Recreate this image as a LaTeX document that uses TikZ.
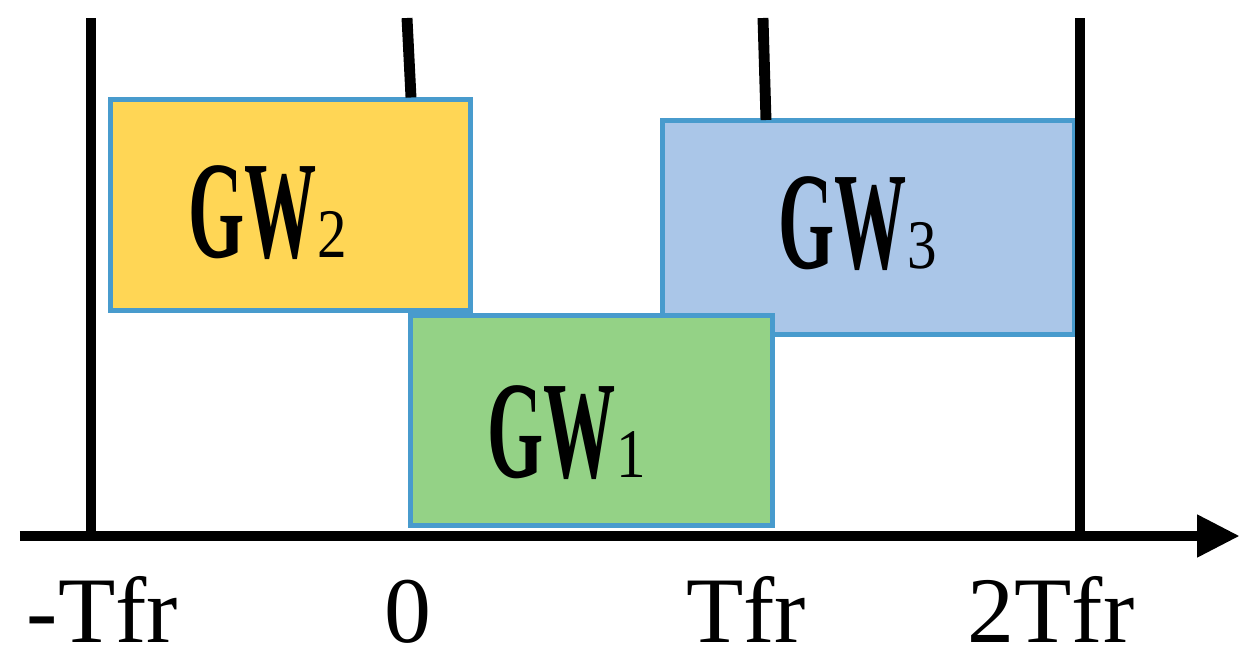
\documentclass[tikz,border=0pt]{standalone}
\usepackage{fontspec}
\usepackage{tikz}
\usetikzlibrary{arrows.meta}
\setmainfont{Liberation Serif}
\newfontfamily\gwfont[FakeStretch=0.52]{Liberation Serif}
\newfontfamily\gwsub[FakeStretch=0.85]{Liberation Serif}
\definecolor{gwyellow}{RGB}{255,214,85}
\definecolor{gwgreen}{RGB}{148,210,134}
\definecolor{gwblue}{RGB}{170,198,232}
\definecolor{gwedge}{RGB}{72,155,205}

\begin{document}
\begin{tikzpicture}[
    gwbox/.style={draw=gwedge, line width=1.4pt, inner sep=0pt, outer sep=0pt},
    gwtext/.style={anchor=base west, inner sep=0pt, font=\gwfont\bfseries\fontsize{39.5}{40}\selectfont},
    ticklabel/.style={anchor=base, inner sep=0pt, font=\fontsize{26.7}{30}\selectfont},
    timeline/.style={line width=3.1pt}
  ]
    \useasboundingbox (0,0) rectangle (12.49,6.57);
    % gate windows
    \node[gwbox, fill=gwyellow, minimum width=3.60cm, minimum height=2.11cm] (gw2) at (2.905,4.52) {};
    \node[gwbox, fill=gwblue, minimum width=4.12cm, minimum height=2.14cm] (gw3) at (8.685,4.295) {};
    \node[gwbox, fill=gwgreen, minimum width=3.62cm, minimum height=2.10cm] (gw1) at (5.915,2.365) {};
    \node[gwtext] (gw2 text) at (1.88,4.00) {GW{\gwsub\mdseries\fontsize{19.8}{20}\selectfont 2}};
    \node[gwtext] (gw3 text) at (7.78,3.89) {GW{\gwsub\mdseries\fontsize{19.8}{20}\selectfont 3}};
    \node[gwtext] (gw1 text) at (4.87,1.80) {GW{\gwsub\mdseries\fontsize{19.8}{20}\selectfont 1}};
    % frame boundaries
    \draw[timeline] (0.91,6.39) -- (0.91,1.21);
    \draw[timeline] (4.07,6.39) -- (4.11,5.595);
    \draw[timeline] (7.63,6.39) -- (7.66,5.37);
    \draw[timeline] (10.80,6.39) -- (10.80,1.21);
    % time axis
    \draw[timeline, -{Triangle[length=4.3mm,width=4mm]}] (0.20,1.21) -- (12.40,1.21);
    \node[ticklabel] (t minus) at (1.025,0.15) {-Tfr};
    \node[ticklabel] (t zero) at (4.075,0.15) {0};
    \node[ticklabel] (t one) at (7.46,0.15) {Tfr};
    \node[ticklabel] (t two) at (10.51,0.15) {2Tfr};
\end{tikzpicture}
\end{document}
